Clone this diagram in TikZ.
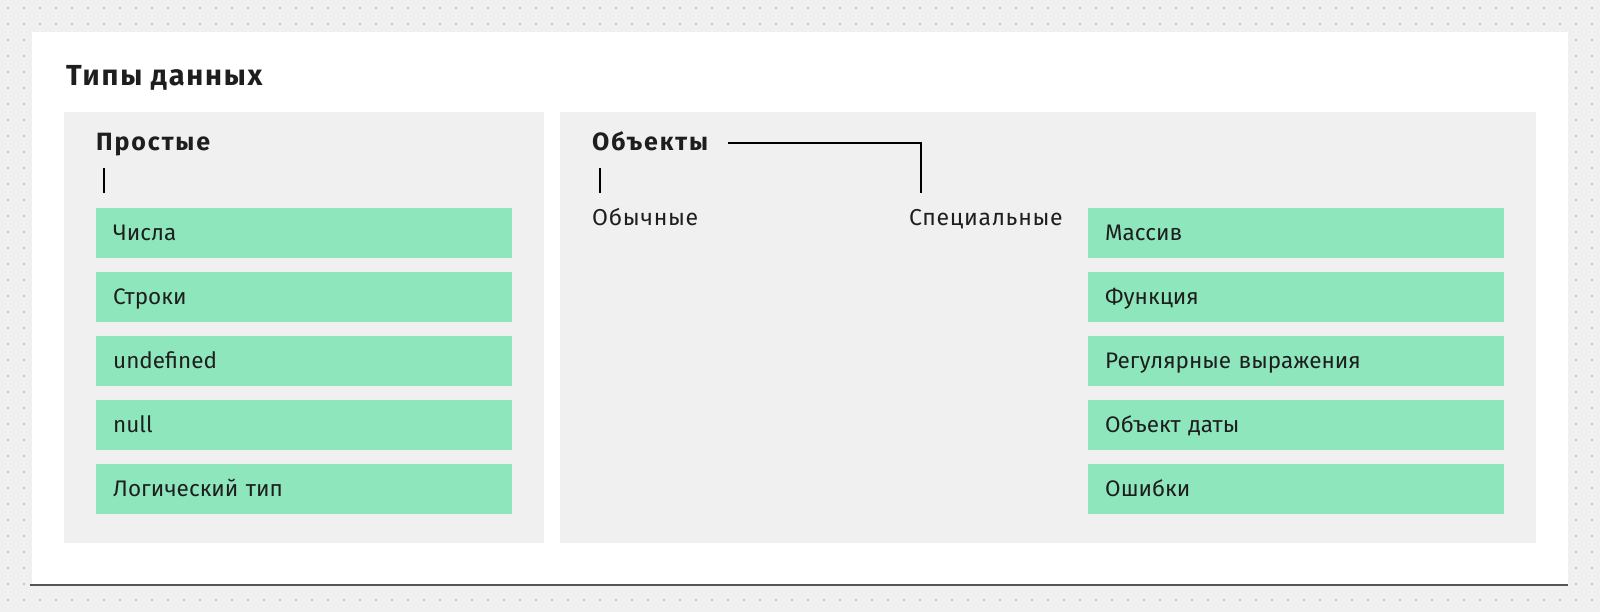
\documentclass[tikz,border=0pt]{standalone}
\usepackage{fontspec}
\setmainfont{Fira Sans}
\newfontfamily\headfont{Fira Sans}[LetterSpace=7.5]
\newfontfamily\titlefont{Fira Sans}[LetterSpace=6]
\newfontfamily\subfont{Fira Sans}[LetterSpace=3]
\usetikzlibrary{calc}
\definecolor{outerbg}{HTML}{F0F0F0}
\definecolor{dotc}{HTML}{C6C6C6}
\definecolor{panelc}{HTML}{F0F0F0}
\definecolor{greenc}{HTML}{8EE6BC}
\definecolor{txtc}{HTML}{1E1E1E}
\definecolor{basec}{HTML}{555555}
\tikzset{
  itembox/.style={fill=greenc, draw=none, anchor=north west, text width=382pt, inner xsep=17pt, inner ysep=0pt,
    minimum height=50pt, align=left, text height=17pt, text depth=3pt, text=txtc,
    font=\fontsize{22.5pt}{26pt}\selectfont},
  heading/.style={anchor=base west, inner sep=0pt, text=txtc, font=\headfont\fontsize{25pt}{28pt}\selectfont\bfseries},
  sublabel/.style={anchor=base west, inner sep=0pt, text=txtc, font=\subfont\fontsize{23pt}{26pt}\selectfont},
  conn/.style={draw=black, line width=2pt},
  panel/.style={fill=panelc, draw=none}
}
\begin{document}
\begin{tikzpicture}[x=1pt, y=-1pt]
\useasboundingbox (0,0) rectangle (1600,612);
\fill[outerbg] (0,0) rectangle (1600,612);
\foreach \i in {0,...,99} {
  \foreach \j in {0,...,37} {
    \fill[dotc] ({8+16*\i-1.4},{8+16*\j-1.4}) rectangle +(2.8,2.8);
  }
}
\fill[white] (32,32) rectangle (1568,585);
\draw[basec, line width=2.5pt] (30,585) -- (1568,585);
% panels
\fill[panel] (64,112) rectangle (544,543);
\fill[panel] (560,112) rectangle (1536,543);
% title
\node[anchor=base west, inner sep=0pt, text=txtc, font=\titlefont\fontsize{29pt}{32pt}\selectfont\bfseries] (title) at (66,86) {Типы данных};
% left panel
\node[heading] (prostye) at (96,151) {Простые};
\node[itembox] (b1) at (96,208) {Числа};
\node[itembox] (b2) at (96,272) {Строки};
\node[itembox] (b3) at (96,336) {undefined};
\node[itembox] (b4) at (96,400) {null};
\node[itembox] (b5) at (96,464) {Логический тип};
\draw[conn] ($(prostye.base west)+(8,17)$) -- ($(b1.north west)+(8,-15)$);
% right panel
\node[heading] (obj) at (592,151) {Объекты};
\node[sublabel] (obych) at (592,226) {Обычные};
\node[sublabel] (spec) at (909,226) {Специальные};
\node[itembox] (c1) at (1088,208) {Массив};
\node[itembox] (c2) at (1088,272) {Функция};
\node[itembox] (c3) at (1088,336) {Регулярные выражения};
\node[itembox] (c4) at (1088,400) {Объект даты};
\node[itembox] (c5) at (1088,464) {Ошибки};
\draw[conn] ($(obj.base west)+(8,17)$) -- ($(obych.base west)+(8,-33)$);
\draw[conn] ($(obj.base east)+(20,-8)$) -| ($(spec.base west)+(12,-33)$);
\end{tikzpicture}
\end{document}
